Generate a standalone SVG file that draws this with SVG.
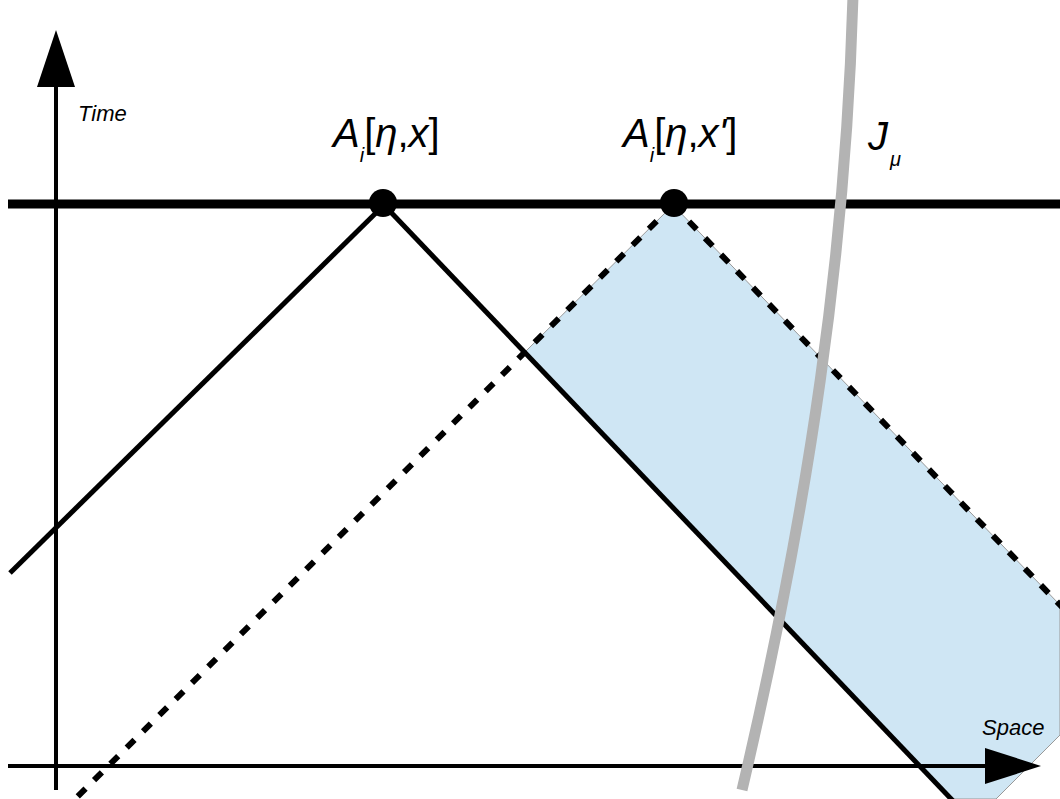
<svg xmlns="http://www.w3.org/2000/svg" width="1060" height="799" viewBox="0 0 1060 799">
  <style>
    .lbl { font-family: "Liberation Sans", Arial, sans-serif; fill: #000; }
    .it { font-style: italic; }
    .solid { stroke: #000; stroke-width: 5; fill: none; }
    .dash { stroke: #000; stroke-width: 6; fill: none; stroke-dasharray: 11 12; }
    .axis { stroke: #000; stroke-width: 4; fill: none; }
  </style>
  <rect x="0" y="0" width="1060" height="799" fill="#fff"/>
  <g id="region">
    <polygon points="673,205 1060,605 1060,735 996,799 951,799 525,352" fill="#cfe6f4" stroke="#999" stroke-width="1"/>
  </g>
  <g id="connectors">
    <line class="axis" x1="56" y1="85" x2="56" y2="790"/>
    <polygon points="56,30 37,87 75,87" fill="#000"/>
    <line class="axis" x1="8" y1="766" x2="990" y2="766"/>
    <polygon points="1041,766 985,748 985,784" fill="#000"/>
    <line x1="8" y1="204" x2="1060" y2="204" stroke="#000" stroke-width="9"/>
    <line class="solid" x1="384" y1="205" x2="10" y2="573"/>
    <line class="solid" x1="384" y1="205" x2="955" y2="803"/>
    <line class="dash" x1="673" y1="205" x2="71" y2="803"/>
    <line class="dash" x1="673" y1="205" x2="1062" y2="607"/>
  </g>
  <g id="current">
    <path d="M853,-5 C846,250 810,500 742,790" fill="none" stroke="#b3b3b3" stroke-width="11"/>
  </g>
  <g id="node-x">
    <circle cx="383" cy="203" r="14" fill="#000"/>
    <text class="lbl" x="333" y="147" font-size="40"><tspan class="it">A</tspan><tspan class="it" font-size="20" dy="15">i</tspan><tspan dy="-15">[</tspan><tspan class="it">η</tspan>,<tspan class="it">x</tspan>]</text>
  </g>
  <g id="node-xprime">
    <circle cx="674" cy="203" r="14" fill="#000"/>
    <text class="lbl" x="623" y="147" font-size="40"><tspan class="it">A</tspan><tspan class="it" font-size="20" dy="15">i</tspan><tspan dy="-15">[</tspan><tspan class="it">η</tspan>,<tspan class="it">x'</tspan>]</text>
  </g>
  <g id="label-J">
    <text class="lbl" x="868" y="150" font-size="40"><tspan class="it">J</tspan><tspan class="it" font-size="20" dx="2" dy="16">μ</tspan></text>
  </g>
  <g id="axis-labels">
    <text class="lbl it" x="78" y="121" font-size="22">Time</text>
    <text class="lbl it" x="982" y="735" font-size="22">Space</text>
  </g>
</svg>
